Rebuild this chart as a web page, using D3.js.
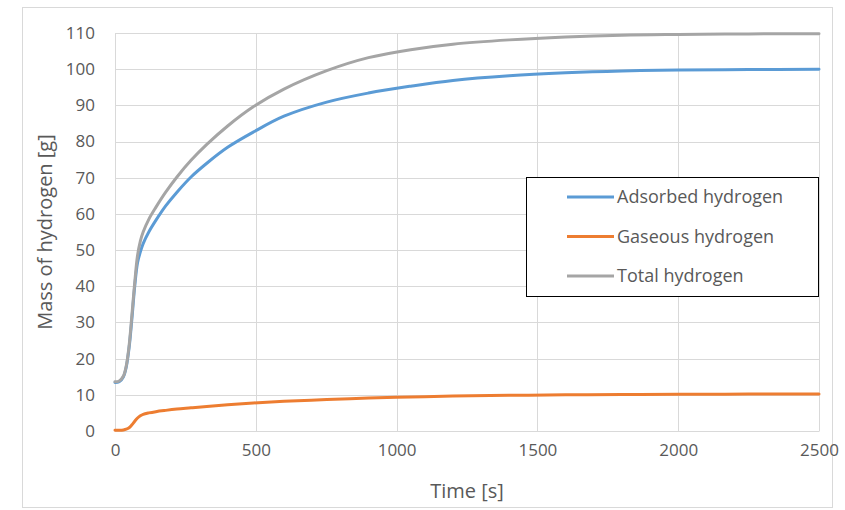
<!DOCTYPE html>
<html>
<head>
<meta charset="utf-8">
<script src="https://cdn.jsdelivr.net/npm/d3@7"></script>
<style>
  html, body { margin: 0; padding: 0; background: #fff; }
  svg { display: block; }
  text { font-family: "Open Sans", "Noto Sans", sans-serif; fill: #595959; }
</style>
</head>
<body>
<svg id="chart" width="845" height="510"></svg>
<script>
// Time samples [s]
const time = [0, 15, 30, 40, 50, 60, 70, 80, 90, 100, 120, 145, 180, 220, 270, 326, 400, 491, 600, 752, 900, 1050, 1200, 1400, 1600, 1800, 2000, 2250, 2500];

// Mass of hydrogen [g]
const adsorbed = [13.4, 13.6, 15, 17.7, 23, 31, 40, 46.5, 49.5, 51.8, 55, 58.2, 62.2, 66, 70.2, 74, 78.4, 82.6, 87.0, 90.9, 93.4, 95.3, 96.9, 98.2, 99.0, 99.5, 99.75, 99.9, 100];
const gaseous = [0.2, 0.2, 0.3, 0.5, 0.9, 1.7, 2.7, 3.6, 4.2, 4.6, 5.0, 5.35, 5.7, 6.05, 6.4, 6.8, 7.25, 7.75, 8.2, 8.7, 9.1, 9.4, 9.65, 9.85, 10.0, 10.1, 10.15, 10.2, 10.2];
const total = [13.6, 13.8, 15.2, 18, 23.5, 32, 41, 48.5, 52.5, 55, 58.5, 61.8, 66, 70.2, 74.8, 79.2, 84.3, 89.6, 94.5, 99.6, 103.2, 105.4, 106.9, 108.1, 108.9, 109.4, 109.6, 109.75, 109.8];

const seriesNames = ["Adsorbed hydrogen", "Gaseous hydrogen", "Total hydrogen"];
const seriesColors = ["#5b9bd5", "#ed7d31", "#a5a5a5"];

const xTicks = [0, 500, 1000, 1500, 2000, 2500];
const yTicks = [0, 10, 20, 30, 40, 50, 60, 70, 80, 90, 100, 110];

const svg = d3.select("#chart");

// outer chart frame
svg.append("rect")
  .attr("x", 22.5).attr("y", 7.5)
  .attr("width", 810).attr("height", 500)
  .attr("fill", "#fff").attr("stroke", "#d9d9d9");

const plot = { left: 115, right: 819, top: 33, bottom: 431 };

const x = d3.scaleLinear().domain([0, 2500]).range([plot.left, plot.right]);
const y = d3.scaleLinear().domain([0, 110]).range([plot.bottom, plot.top]);

// gridlines
const grid = svg.append("g").attr("shape-rendering", "crispEdges");
grid.selectAll("line.h").data(yTicks).join("line")
  .attr("class", "h")
  .attr("x1", plot.left).attr("x2", plot.right)
  .attr("y1", d => Math.round(y(d)) + 0.5).attr("y2", d => Math.round(y(d)) + 0.5)
  .attr("stroke", "#d9d9d9");
grid.selectAll("line.v").data(xTicks).join("line")
  .attr("class", "v")
  .attr("y1", plot.top).attr("y2", plot.bottom)
  .attr("x1", d => Math.round(x(d)) + 0.5).attr("x2", d => Math.round(x(d)) + 0.5)
  .attr("stroke", "#d9d9d9");

// axes
const xAxis = svg.append("g")
  .attr("transform", `translate(0,${plot.bottom})`)
  .call(d3.axisBottom(x).tickValues(xTicks).tickSize(0).tickPadding(13).tickFormat(d3.format("d")));
const yAxis = svg.append("g")
  .attr("transform", `translate(${plot.left},0)`)
  .call(d3.axisLeft(y).tickValues(yTicks).tickSize(0).tickPadding(20).tickFormat(d3.format("d")));
[xAxis, yAxis].forEach(a => {
  a.select(".domain").attr("stroke", "#d9d9d9");
  a.selectAll("text").attr("font-size", "17px").attr("fill", "#595959")
    .attr("font-family", "'Open Sans', sans-serif");
});

// axis titles
svg.append("text")
  .attr("x", (plot.left + plot.right) / 2).attr("y", 498)
  .attr("text-anchor", "middle").attr("font-size", "20px")
  .text("Time [s]");
svg.append("text")
  .attr("transform", `translate(52,${(plot.top + plot.bottom) / 2}) rotate(-90)`)
  .attr("text-anchor", "middle").attr("font-size", "20px")
  .text("Mass of hydrogen [g]");

// series
const seriesValues = [adsorbed, gaseous, total];
const line = d3.line()
  .x(d => x(d[0]))
  .y(d => y(d[1]))
  .curve(d3.curveCatmullRom.alpha(0.5));

seriesValues.forEach((vals, i) => {
  svg.append("path")
    .datum(time.map((t, j) => [t, vals[j]]))
    .attr("fill", "none")
    .attr("stroke", seriesColors[i])
    .attr("stroke-width", 3)
    .attr("stroke-linejoin", "round")
    .attr("stroke-linecap", "round")
    .attr("d", line);
});

// legend
const legend = svg.append("g");
legend.append("rect")
  .attr("x", 526.5).attr("y", 177.5)
  .attr("width", 292).attr("height", 119)
  .attr("fill", "#fff").attr("stroke", "#000").attr("stroke-width", 1);
seriesNames.forEach((name, i) => {
  const ly = 197 + i * 39.5;
  legend.append("line")
    .attr("x1", 567).attr("x2", 614)
    .attr("y1", ly).attr("y2", ly)
    .attr("stroke", seriesColors[i]).attr("stroke-width", 3);
  legend.append("text")
    .attr("x", 617).attr("y", ly)
    .attr("dy", "0.35em")
    .attr("font-size", "18px")
    .text(name);
});
</script>
</body>
</html>
